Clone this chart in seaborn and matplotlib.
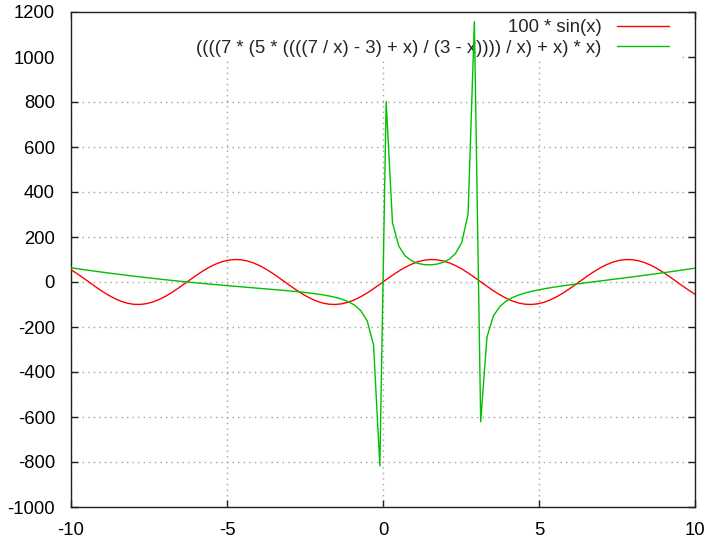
import matplotlib
matplotlib.use("Agg")
import matplotlib.pyplot as plt
import seaborn as sns
import numpy as np
import pandas as pd
from matplotlib.patches import Rectangle

x_vals = [-10.000, -9.798, -9.596, -9.394, -9.192, -8.990, -8.788, -8.586, -8.384, -8.182,
          -7.980, -7.778, -7.576, -7.374, -7.172, -6.970, -6.768, -6.566, -6.364, -6.162,
          -5.960, -5.758, -5.556, -5.354, -5.152, -4.949, -4.747, -4.545, -4.343, -4.141,
          -3.939, -3.737, -3.535, -3.333, -3.131, -2.929, -2.727, -2.525, -2.323, -2.121,
          -1.919, -1.717, -1.515, -1.313, -1.111, -0.909, -0.707, -0.505, -0.303, -0.101,
          0.101, 0.303, 0.505, 0.707, 0.909, 1.111, 1.313, 1.515, 1.717, 1.919,
          2.121, 2.323, 2.525, 2.727, 2.929, 3.131, 3.333, 3.535, 3.737, 3.939,
          4.141, 4.343, 4.545, 4.747, 4.949, 5.152, 5.354, 5.556, 5.758, 5.960,
          6.162, 6.364, 6.566, 6.768, 6.970, 7.172, 7.374, 7.576, 7.778, 7.980,
          8.182, 8.384, 8.586, 8.788, 8.990, 9.192, 9.394, 9.596, 9.798, 10.000]

sin_vals = [54.40, 36.46, 17.04, -3.09, -23.08, -42.13, -59.47, -74.39, -86.29, -94.68,
            -99.21, -99.71, -96.15, -88.69, -77.61, -63.39, -46.58, -27.88, -8.03, 12.13,
            31.80, 50.17, 66.51, 80.14, 90.51, 97.20, 99.94, 98.61, 93.27, 84.14,
            71.58, 56.12, 38.37, 19.05, -1.03, -21.07, -40.25, -57.80, -73.01, -85.23,
            -93.99, -98.93, -99.85, -96.70, -89.62, -78.89, -64.96, -48.39, -29.84, -10.08,
            10.08, 29.84, 48.39, 64.96, 78.89, 89.62, 96.70, 99.85, 98.93, 93.99,
            85.23, 73.01, 57.80, 40.25, 21.07, 1.03, -19.05, -38.37, -56.12, -71.58,
            -84.14, -93.27, -98.61, -99.94, -97.20, -90.51, -80.14, -66.51, -50.17, -31.80,
            -12.13, 8.03, 27.88, 46.58, 63.39, 77.61, 88.69, 96.15, 99.71, 99.21,
            94.68, 86.29, 74.39, 59.47, 42.13, 23.08, 3.09, -17.04, -36.46, -54.40]

expr_vals = [63.12, 59.05, 55.06, 51.14, 47.31, 43.55, 39.86, 36.25, 32.72, 29.26,
             25.88, 22.57, 19.34, 16.17, 13.07, 10.05, 7.10, 4.21, 1.38, -1.38,
             -4.07, -6.71, -9.29, -11.82, -14.30, -16.73, -19.12, -21.48, -23.82, -26.13,
             -28.44, -30.76, -33.10, -35.49, -37.96, -40.53, -43.25, -46.18, -49.41, -53.05,
             -57.27, -62.30, -68.52, -76.53, -87.40, -103.11, -127.97, -173.15, -279.68, -817.15,
             801.68, 264.87, 159.69, 116.62, 94.72, 82.97, 77.33, 76.20, 79.17, 86.80,
             100.93, 126.22, 175.74, 301.83, 1156.46, -621.04, -244.39, -151.95, -109.93, -85.69,
             -69.68, -58.12, -49.22, -41.99, -35.89, -30.57, -25.78, -21.39, -17.28, -13.37,
             -9.61, -5.95, -2.36, 1.19, 4.72, 8.24, 11.78, 15.32, 18.90, 22.51,
             26.16, 29.86, 33.61, 37.41, 41.27, 45.19, 49.17, 53.21, 57.32, 61.50]

series_labels = ["100 * sin(x)",
                 "((((7 * (5 * ((((7 / x) - 3) + x) / (3 - x)))) / x) + x) * x)"]
x_ticks = [-10, -5, 0, 5, 10]
y_ticks = [-1000, -800, -600, -400, -200, 0, 200, 400, 600, 800, 1000, 1200]

sns.set_style("white")
plt.rcParams['font.family'] = ['Liberation Sans', 'DejaVu Sans']

fig = plt.figure(figsize=(7.05, 5.42), dpi=100)
ax = fig.add_axes([71 / 705, 35 / 542, 624 / 705, 495 / 542])

df = pd.DataFrame({
    "x": x_vals * 2,
    "y": sin_vals + expr_vals,
    "series": [series_labels[0]] * len(x_vals) + [series_labels[1]] * len(x_vals),
})
sns.lineplot(data=df, x="x", y="y", hue="series", hue_order=series_labels,
             palette=["#ff0000", "#00c000"], estimator=None, sort=False,
             linewidth=1.0, ax=ax, zorder=3)

ax.set_xlim(-10, 10)
ax.set_ylim(-1000, 1200)
ax.set_xticks(x_ticks)
ax.set_yticks(y_ticks)
ax.set_xticklabels([str(v) for v in x_ticks])
ax.set_yticklabels([str(v) for v in y_ticks])
ax.set_xlabel("")
ax.set_ylabel("")

ax.set_axisbelow(True)
ax.grid(True, color="#a0a0a0", linestyle=(0, (1, 3)), linewidth=1.0)
for s in ax.spines.values():
    s.set_visible(True)
    s.set_color("#202020")
    s.set_linewidth(1.0)
ax.tick_params(axis="both", which="both", direction="in", length=5, width=1,
               color="#202020", labelsize=13.3, labelcolor="#000000",
               top=True, right=True, bottom=True, left=True)
ax.tick_params(axis="y", pad=11.5)
ax.tick_params(axis="x", pad=11)

# blank key area (grid hidden behind the key like gnuplot)
ax.add_patch(Rectangle((0.002, 0.901), 0.977, 0.097, transform=ax.transAxes,
                       facecolor="white", edgecolor="none", zorder=1.2))

leg = ax.legend(loc="upper right", bbox_to_anchor=((669 - 71) / 624, (507 - 19) / 495),
                frameon=False, markerfirst=False, fontsize=13.3, handlelength=2.8,
                handletextpad=0.85, labelspacing=0.2, borderpad=0, borderaxespad=0)
leg.set_zorder(1.5)

fig.savefig("out.png", dpi=100)
